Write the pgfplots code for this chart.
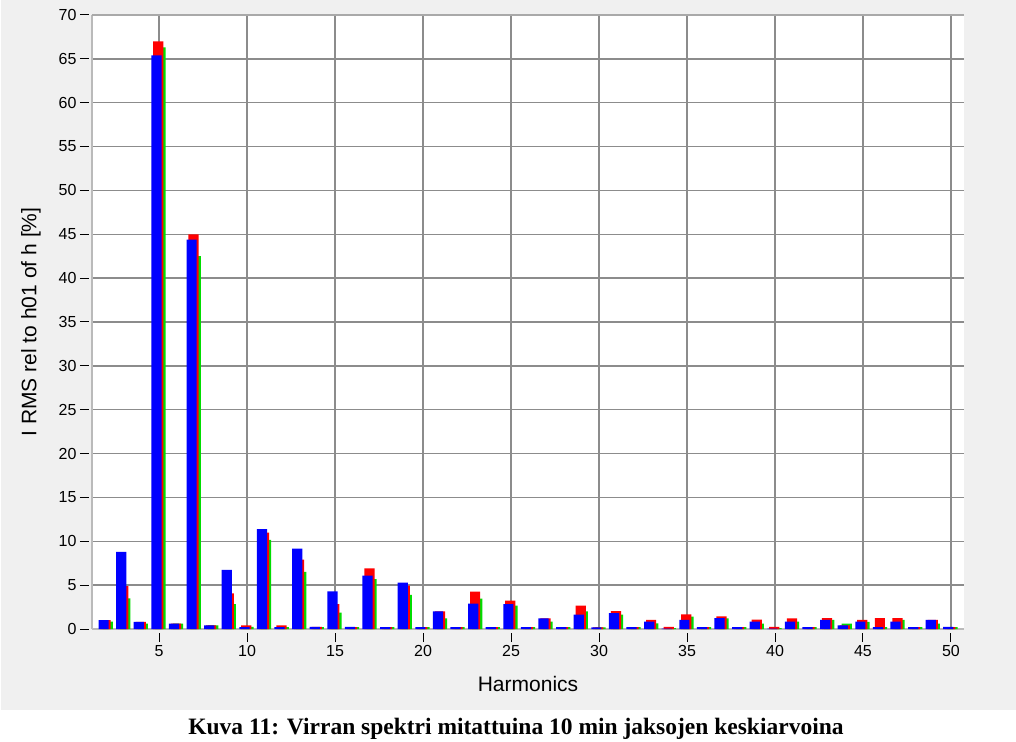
\documentclass[border=0pt]{standalone}
\usepackage{pgfplots}
\usepackage{pgfplotstable}
\pgfplotsset{compat=1.18}
\usepackage{fontspec}
\setmainfont{Liberation Sans}
\newfontfamily\capfont{Liberation Serif}

\definecolor{panel}{HTML}{F0F0F0}
\definecolor{gridgray}{HTML}{8C8C8C}
\definecolor{bblue}{HTML}{0000FF}
\definecolor{bred}{HTML}{FF0000}
\definecolor{bgreen}{HTML}{00DD00}

% harmonic, blue, red, green  (I RMS rel to h01, %)
\pgfplotstableread{
h  b     r     g
2  1.00  1.00  0.85
3  8.80  4.90  3.50
4  0.80  0.80  0.60
5  65.40 67.00 66.30
6  0.60  0.60  0.60
7  44.40 45.00 42.50
8  0.42  0.42  0.40
9  6.75  4.07  2.85
10 0.20  0.42  0.23
11 11.40 11.00 10.15
12 0.20  0.42  0.20
13 9.16  7.90  6.50
14 0.23  0.23  0.20
15 4.30  2.85  1.86
16 0.23  0.20  0.20
17 6.08  6.90  5.70
18 0.20  0.20  0.20
19 5.28  4.94  3.90
20 0.20  0.20  0.20
21 2.00  2.00  1.20
22 0.20  0.20  0.20
23 2.90  4.26  3.46
24 0.20  0.20  0.20
25 2.85  3.23  2.66
26 0.20  0.20  0.20
27 1.22  1.22  0.84
28 0.20  0.20  0.20
29 1.63  2.66  2.00
30 0.19  0.19  0.19
31 1.82  2.05  1.63
32 0.20  0.20  0.20
33 0.84  1.03  0.65
34 0.05  0.23  0.10
35 1.03  1.67  1.40
36 0.20  0.20  0.20
37 1.25  1.44  1.22
38 0.20  0.20  0.20
39 0.84  1.06  0.60
40 0.05  0.23  0.10
41 0.84  1.22  0.84
42 0.20  0.20  0.20
43 1.03  1.25  1.03
44 0.42  0.42  0.60
45 0.84  1.03  0.80
46 0.20  1.25  0.20
47 0.84  1.25  1.03
48 0.20  0.20  0.20
49 1.03  1.03  0.60
50 0.23  0.20  0.20
}\harm

\begin{document}
\begin{tikzpicture}
% page: white, grey chart panel on top
\fill[white] (-92pt,-112pt) rectangle (924pt,629pt);
\fill[panel] (-91pt,-81pt) rectangle (924pt,629pt);
\path[use as bounding box] (-92pt,-112pt) rectangle (924pt,629pt);

\begin{axis}[
    at={(0,0)}, anchor=south west,
    scale only axis,
    width=872pt, height=614pt,
    axis background/.style={fill=white},
    xmin=1.19, xmax=50.74,
    ymin=0, ymax=70,
    xtick={5,10,...,50},
    ytick={0,5,...,70},
    axis x line*=bottom, axis y line*=left,
    axis line style={draw=gridgray!60, line width=1.5pt},
    grid=major,
    grid style={gridgray, line width=1.5pt},
    tick align=outside,
    major tick length=9pt,
    xtick style={black, line width=1pt, yshift=-4pt},
    ytick style={black, line width=1pt, xshift=-3pt},
    /pgf/number format/assume math mode=true,
    tick label style={font=\fontsize{16}{16}\selectfont},
    yticklabel style={xshift=-3pt},
    xticklabel style={yshift=-4pt},
    xlabel={Harmonics},
    ylabel={I RMS rel to h01 of h [\%]},
    label style={font=\fontsize{21}{21}\selectfont},
    xlabel style={at={(axis description cs:0.5,-0.1026)}, anchor=base},
    ylabel style={at={(axis description cs:-0.07,0.5)}, anchor=center},
    clip=false,
]
\addplot[ybar, bar width=0.58, bar shift=0.08, fill=bgreen, draw=none]
    table[x=h, y=g] {\harm};
\addplot[ybar, bar width=0.58, bar shift=-0.04, fill=bred, draw=none]
    table[x=h, y=r] {\harm};
\addplot[ybar, bar width=0.58, bar shift=-0.15, fill=bblue, draw=none]
    table[x=h, y=b] {\harm};
\draw[gridgray!75, line width=2.5pt] (rel axis cs:0,1) -- (rel axis cs:1,1);
\end{axis}

\node[anchor=base, font=\capfont\bfseries\fontsize{23.5}{23.5}\selectfont]
    at (424pt,-105pt) {Kuva 11: Virran spektri mitattuina 10 min jaksojen keskiarvoina};
\end{tikzpicture}
\end{document}
